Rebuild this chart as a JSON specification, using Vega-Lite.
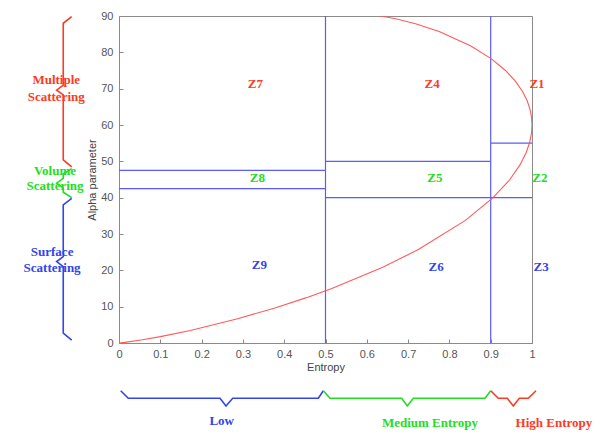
{
  "$schema": "https://vega.github.io/schema/vega-lite/v6.json",
  "width": 413,
  "height": 327,
  "autosize": "none",
  "padding": {"left": 119, "top": 16, "right": 76, "bottom": 92},
  "background": "white",
  "config": {
    "view": {"stroke": "#8a8a8a", "strokeWidth": 1},
    "axis": {"grid": false, "domainColor": "#8a8a8a", "tickColor": "#8a8a8a", "labelFont": "Liberation Sans", "labelFontSize": 11, "labelColor": "#555", "titleFont": "Liberation Sans", "titleFontSize": 11, "titleFontWeight": "normal", "titleColor": "#444"}
  },
  "datasets": {
    "curve": [
      {"i": 0, "H": 0, "A": 0},
      {"i": 1, "H": 0.0144, "A": 0.18},
      {"i": 2, "H": 0.0568, "A": 0.891},
      {"i": 3, "H": 0.1002, "A": 1.765},
      {"i": 4, "H": 0.1727, "A": 3.462},
      {"i": 5, "H": 0.2871, "A": 6.667},
      {"i": 6, "H": 0.3775, "A": 9.643},
      {"i": 7, "H": 0.4522, "A": 12.414},
      {"i": 8, "H": 0.5153, "A": 15.0},
      {"i": 9, "H": 0.6373, "A": 20.769},
      {"i": 10, "H": 0.7248, "A": 25.714},
      {"i": 11, "H": 0.8388, "A": 33.75},
      {"i": 12, "H": 0.9057, "A": 40.0},
      {"i": 13, "H": 0.9464, "A": 45.0},
      {"i": 14, "H": 0.9713, "A": 49.091},
      {"i": 15, "H": 0.9863, "A": 52.5},
      {"i": 16, "H": 0.9947, "A": 55.385},
      {"i": 17, "H": 0.9989, "A": 57.857},
      {"i": 18, "H": 1.0, "A": 60.0},
      {"i": 19, "H": 0.9989, "A": 62.069},
      {"i": 20, "H": 0.9952, "A": 64.286},
      {"i": 21, "H": 0.9883, "A": 66.667},
      {"i": 22, "H": 0.9771, "A": 69.231},
      {"i": 23, "H": 0.9602, "A": 72.0},
      {"i": 24, "H": 0.9359, "A": 75.0},
      {"i": 25, "H": 0.9011, "A": 78.261},
      {"i": 26, "H": 0.8509, "A": 81.818},
      {"i": 27, "H": 0.7752, "A": 85.714},
      {"i": 28, "H": 0.7199, "A": 87.805},
      {"i": 29, "H": 0.6753, "A": 89.109},
      {"i": 30, "H": 0.6476, "A": 89.731},
      {"i": 31, "H": 0.6309, "A": 90.0}
    ],
    "bounds": [
      {"H": 0.5, "H2": 0.5, "A": 0, "A2": 90},
      {"H": 0.9, "H2": 0.9, "A": 0, "A2": 90},
      {"H": 0, "H2": 0.5, "A": 47.5, "A2": 47.5},
      {"H": 0, "H2": 0.5, "A": 42.5, "A2": 42.5},
      {"H": 0.5, "H2": 0.9, "A": 50, "A2": 50},
      {"H": 0.5, "H2": 1, "A": 40, "A2": 40},
      {"H": 0.9, "H2": 1, "A": 55, "A2": 55}
    ],
    "braces": [
      {"b": "Multiple", "i": 0, "H": -0.1145, "A": 89.8},
      {"b": "Multiple", "i": 1, "H": -0.135, "A": 88.0},
      {"b": "Multiple", "i": 2, "H": -0.135, "A": 71.0},
      {"b": "Multiple", "i": 3, "H": -0.151, "A": 69.6},
      {"b": "Multiple", "i": 4, "H": -0.135, "A": 68.3},
      {"b": "Multiple", "i": 5, "H": -0.135, "A": 50.4},
      {"b": "Multiple", "i": 6, "H": -0.1145, "A": 48.5},
      {"b": "Volume", "i": 0, "H": -0.1145, "A": 48.0},
      {"b": "Volume", "i": 1, "H": -0.135, "A": 46.5},
      {"b": "Volume", "i": 2, "H": -0.135, "A": 45.3},
      {"b": "Volume", "i": 3, "H": -0.151, "A": 44.0},
      {"b": "Volume", "i": 4, "H": -0.135, "A": 42.7},
      {"b": "Volume", "i": 5, "H": -0.135, "A": 41.5},
      {"b": "Volume", "i": 6, "H": -0.1145, "A": 40.0},
      {"b": "Surface", "i": 0, "H": -0.1145, "A": 39.8},
      {"b": "Surface", "i": 1, "H": -0.135, "A": 38.0},
      {"b": "Surface", "i": 2, "H": -0.135, "A": 23.8},
      {"b": "Surface", "i": 3, "H": -0.151, "A": 22.4},
      {"b": "Surface", "i": 4, "H": -0.135, "A": 21.0},
      {"b": "Surface", "i": 5, "H": -0.135, "A": 2.7},
      {"b": "Surface", "i": 6, "H": -0.1145, "A": 0.8},
      {"b": "Low", "i": 0, "H": 0.0041, "A": -13.13},
      {"b": "Low", "i": 1, "H": 0.0225, "A": -15.22},
      {"b": "Low", "i": 2, "H": 0.2446, "A": -15.22},
      {"b": "Low", "i": 3, "H": 0.2591, "A": -17.34},
      {"b": "Low", "i": 4, "H": 0.2753, "A": -15.22},
      {"b": "Low", "i": 5, "H": 0.4826, "A": -15.22},
      {"b": "Low", "i": 6, "H": 0.4947, "A": -13.13},
      {"b": "Medium", "i": 0, "H": 0.4947, "A": -13.13},
      {"b": "Medium", "i": 1, "H": 0.5109, "A": -15.22},
      {"b": "Medium", "i": 2, "H": 0.6845, "A": -15.22},
      {"b": "Medium", "i": 3, "H": 0.6981, "A": -17.34},
      {"b": "Medium", "i": 4, "H": 0.7126, "A": -15.22},
      {"b": "Medium", "i": 5, "H": 0.8862, "A": -15.22},
      {"b": "Medium", "i": 6, "H": 0.9, "A": -13.13},
      {"b": "High", "i": 0, "H": 0.9, "A": -13.13},
      {"b": "High", "i": 1, "H": 0.9184, "A": -15.22},
      {"b": "High", "i": 2, "H": 0.9402, "A": -15.22},
      {"b": "High", "i": 3, "H": 0.9547, "A": -17.34},
      {"b": "High", "i": 4, "H": 0.9693, "A": -15.22},
      {"b": "High", "i": 5, "H": 0.991, "A": -15.22},
      {"b": "High", "i": 6, "H": 1.0097, "A": -13.13}
    ],
    "labels": [
      {"t": "Z7", "b": "Multiple", "H": 0.33, "A": 71.3},
      {"t": "Z4", "b": "Multiple", "H": 0.758, "A": 71.3},
      {"t": "Z1", "b": "Multiple", "H": 1.012, "A": 71.3},
      {"t": "Z8", "b": "Volume", "H": 0.335, "A": 45.4},
      {"t": "Z5", "b": "Volume", "H": 0.765, "A": 45.4},
      {"t": "Z2", "b": "Volume", "H": 1.019, "A": 45.4},
      {"t": "Z9", "b": "Surface", "H": 0.34, "A": 21.5},
      {"t": "Z6", "b": "Surface", "H": 0.768, "A": 21.0},
      {"t": "Z3", "b": "Surface", "H": 1.022, "A": 21.0},
      {"t": "Multiple", "b": "Multiple", "H": -0.152, "A": 72.4},
      {"t": "Scattering", "b": "Multiple", "H": -0.152, "A": 67.7},
      {"t": "Volume", "b": "Volume", "H": -0.155, "A": 47.4},
      {"t": "Scattering", "b": "Volume", "H": -0.155, "A": 43.2},
      {"t": "Surface", "b": "Surface", "H": -0.162, "A": 25.0},
      {"t": "Scattering", "b": "Surface", "H": -0.162, "A": 20.6},
      {"t": "Low", "b": "Low", "H": 0.2487, "A": -21.6},
      {"t": "Medium Entropy", "b": "Medium", "H": 0.753, "A": -22.1},
      {"t": "High Entropy", "b": "High", "H": 1.053, "A": -22.1}
    ]
  },
  "encoding": {
    "x": {"field": "H", "type": "quantitative", "scale": {"domain": [0, 1], "nice": false},
      "axis": {"values": [0, 0.1, 0.2, 0.3, 0.4, 0.5, 0.6, 0.7, 0.8, 0.9, 1], "format": ".1~f", "labelOverlap": false, "labelFlush": false, "title": "Entropy", "tickSize": -4, "labelPadding": 9, "titlePadding": 2}},
    "y": {"field": "A", "type": "quantitative", "scale": {"domain": [0, 90], "nice": false},
      "axis": {"values": [0, 10, 20, 30, 40, 50, 60, 70, 80, 90], "format": "d", "labelOverlap": false, "labelFlush": false, "labelSeparation": 0, "title": "Alpha parameter", "tickSize": -4, "labelPadding": 10, "titleX": -22}}
  },
  "layer": [
    {
      "data": {"name": "bounds"},
      "mark": {"type": "rule", "color": "#5a5aff", "strokeWidth": 1.2},
      "encoding": {
        "x2": {"field": "H2"},
        "y2": {"field": "A2"}
      }
    },
    {
      "data": {"name": "curve"},
      "mark": {"type": "line", "color": "#ff5a5a", "strokeWidth": 1.1, "clip": true},
      "encoding": {
        "order": {"field": "i", "type": "quantitative"}
      }
    },
    {
      "data": {"name": "braces"},
      "mark": {"type": "line", "strokeWidth": 1.6},
      "encoding": {
        "detail": {"field": "b"},
        "order": {"field": "i", "type": "quantitative"},
        "color": {"field": "b", "type": "nominal", "legend": null,
          "scale": {"domain": ["Multiple", "Volume", "Surface", "Low", "Medium", "High"], "range": ["#ff3a22", "#22dd22", "#3344ee", "#3344ee", "#22dd22", "#ff3a22"]}}
      }
    },
    {
      "data": {"name": "labels"},
      "mark": {"type": "text", "font": "Liberation Serif", "fontWeight": "bold", "fontSize": 13, "align": "center", "baseline": "middle"},
      "encoding": {
        "text": {"field": "t"},
        "color": {"field": "b", "type": "nominal", "legend": null}
      }
    }
  ]
}
